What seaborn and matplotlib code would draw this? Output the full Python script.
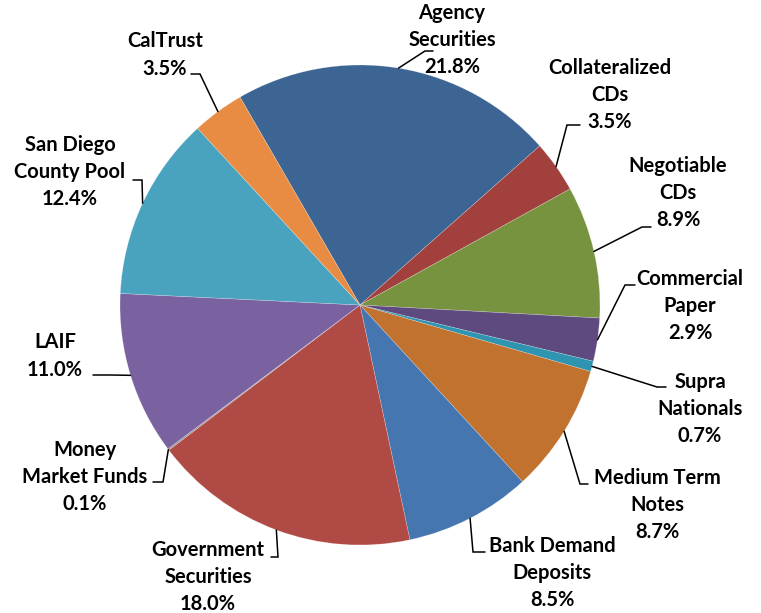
import matplotlib
matplotlib.use("Agg")
import matplotlib.pyplot as plt
import numpy as np
import seaborn as sns

# Portfolio composition by investment type (percent of total)
categories = [
    "Agency\nSecurities", "Collateralized\nCDs", "Negotiable\nCDs",
    "Commercial\nPaper", "Supra\nNationals", "Medium Term\nNotes",
    "Bank Demand\nDeposits", "Government\nSecurities", "Money\nMarket Funds",
    "LAIF", "San Diego\nCounty Pool", "CalTrust",
]
shares = [21.8, 3.5, 8.9, 2.9, 0.7, 8.7, 8.5, 18.0, 0.1, 11.0, 12.4, 3.5]
colors = [
    "#3D6594", "#A2403D", "#77933F", "#5F4A80", "#2F94AF", "#C2722F",
    "#4676B0", "#B04A45", "#9A8F8F", "#7A62A0", "#4AA3BE", "#E88C43",
]

sns.set_theme(style="white")
plt.rcParams["font.family"] = ["Lato", "DejaVu Sans"]

W, H = 761, 613
fig = plt.figure(figsize=(W / 100, H / 100), dpi=100)
ax = fig.add_axes([0, 0, 1, 1])

cx, cy, rad = 360, H - 305, 240
wedges, _ = ax.pie(
    shares, colors=colors, startangle=120, counterclock=False,
    center=(cx, cy), radius=rad, frame=True,
    wedgeprops=dict(linewidth=0.4, edgecolor=(1, 1, 1, 0.35)),
)
ax.set_xlim(0, W)
ax.set_ylim(0, H)
ax.set_aspect("equal")
ax.axis("off")

# label block centres and leader-line routing (elbow, end), in pixel coords from top
label_pos = [
    (452, 40), (610, 95), (678, 193), (690, 306), (700, 409), (657, 505),
    (552, 573), (208, 577), (85, 477), (55, 356), (70, 172), (165, 55),
]
elbows = [
    ((425, 51), (433, 51)), ((567, 125), (580, 125)), ((642, 227), (651, 227)),
    ((625, 285), (635, 285)), ((657, 387), (666, 387)), ((580, 484), (588, 484)),
    ((473, 552), (485, 552)), ((278, 557), (271, 557)), ((163, 482), (153, 482)),
    ((110, 375), (93, 375)), ((142, 180), (133, 180)), ((200, 74), (191, 74)),
]

for w, name, val, (lx, ly), ((ex, ey), (fx, fy)) in zip(
        wedges, categories, shares, label_pos, elbows):
    mid = np.deg2rad((w.theta1 + w.theta2) / 2)
    sx = w.center[0] + w.r * np.cos(mid)
    sy = w.center[1] + w.r * np.sin(mid)
    ax.plot([sx, ex, fx], [sy, H - ey, H - fy], color="black", lw=1.1,
            solid_joinstyle="miter", zorder=3)
    ax.text(lx, H - ly, f"{name}\n{val:.1f}%", ha="center", va="center",
            fontsize=14.5, fontweight="bold", color="black",
            linespacing=1.45, zorder=4)

fig.savefig("out.png", dpi=100, facecolor="white")
